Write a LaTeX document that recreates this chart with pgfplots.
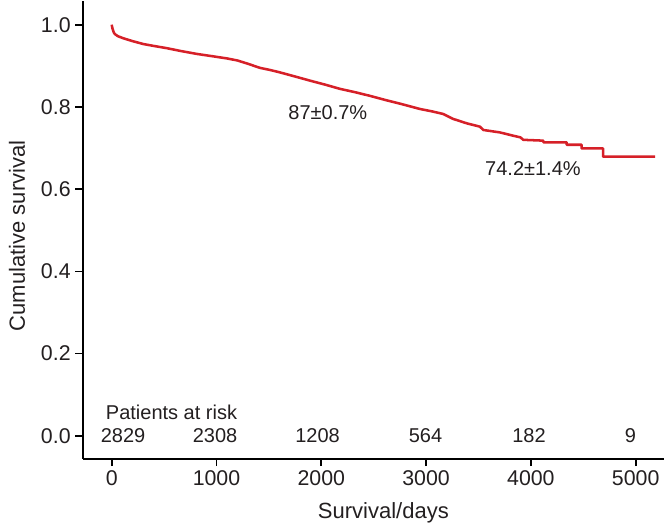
\documentclass[border=0pt]{standalone}
\usepackage{fontspec}
\setmainfont{Liberation Sans}
\usepackage{pgfplots}
\pgfplotsset{compat=1.18}
\definecolor{kmred}{RGB}{214,32,40}
\definecolor{txt}{RGB}{35,31,32}

\begin{document}
\begin{tikzpicture}
\begin{axis}[
    scale only axis,
    width=436.2pt, height=343.5pt,
    xmin=-277, xmax=5273,
    ymin=-0.056, ymax=1.058,
    axis x line*=bottom, axis y line*=left,
    axis line style={line width=1.3pt, black, -},
    xtick={0,1000,2000,3000,4000,5000},
    ytick={0,0.2,0.4,0.6,0.8,1.0},
    tick align=outside,
    major tick length=5.5pt,
    tick style={line width=1.3pt, black},
    /pgf/number format/assume math mode=true,
    /pgf/number format/1000 sep={},
    yticklabel style={/pgf/number format/fixed, /pgf/number format/fixed zerofill, /pgf/number format/precision=1},
    ticklabel style={font=\fontsize{16}{19}\selectfont, text=txt},
    label style={font=\fontsize{16.5}{19}\selectfont, text=txt},
    xlabel={Survival/days},
    ylabel={Cumulative survival},
    xlabel style={at={(axis description cs:0.517,-0.118)}, anchor=center},
    ylabel style={at={(axis description cs:-0.113,0.487)}, anchor=center},
    clip=false,
]
% Kaplan-Meier estimate
\addplot[kmred, line width=1.9pt, mark=none, line join=round] coordinates {
    (0,1.000) (8,0.990) (20,0.981) (31,0.977) (60,0.972) (111,0.967)
    (200,0.960) (302,0.953) (410,0.948) (525,0.943) (660,0.936)
    (811,0.929) (970,0.923) (1100,0.918) (1200,0.913) (1300,0.905)
    (1415,0.895) (1510,0.890) (1606,0.884) (1750,0.874) (1892,0.864)
    (2040,0.854) (2178,0.844) (2320,0.836) (2464,0.827) (2610,0.817)
    (2751,0.808) (2942,0.795) (3060,0.789) (3162,0.783) (3257,0.771)
    (3390,0.760) (3514,0.752) (3546,0.744) (3705,0.738) (3832,0.730)
    (3900,0.726) (3928,0.720) (4119,0.718) (4119,0.714) (4342,0.714)
    (4342,0.708) (4485,0.708) (4485,0.699) (4690,0.699) (4690,0.679)
    (5186,0.679)
};
\node[font=\fontsize{15}{18}\selectfont, text=txt] at (axis cs:2063,0.786) {87±0.7\%};
\node[font=\fontsize{15}{18}\selectfont, text=txt] at (axis cs:4020,0.650) {74.2±1.4\%};
% patients at risk
\node[font=\fontsize{15}{18}\selectfont, text=txt, anchor=west] at (axis cs:-100,0.057) {Patients at risk};
\node[font=\fontsize{15}{18}\selectfont, text=txt] at (axis cs:108,0) {2829};
\node[font=\fontsize{15}{18}\selectfont, text=txt] at (axis cs:986,0) {2308};
\node[font=\fontsize{15}{18}\selectfont, text=txt] at (axis cs:1964,0) {1208};
\node[font=\fontsize{15}{18}\selectfont, text=txt] at (axis cs:2994,0) {564};
\node[font=\fontsize{15}{18}\selectfont, text=txt] at (axis cs:3982,0) {182};
\node[font=\fontsize{15}{18}\selectfont, text=txt] at (axis cs:4950,0) {9};
\coordinate (sw) at (rel axis cs:0,0);
\coordinate (ne) at (rel axis cs:1,1);
\end{axis}
\path ([shift={(-62pt,-52.5pt)}]sw) rectangle ([shift={(5.8pt,0.6pt)}]ne);
\end{tikzpicture}
\end{document}
